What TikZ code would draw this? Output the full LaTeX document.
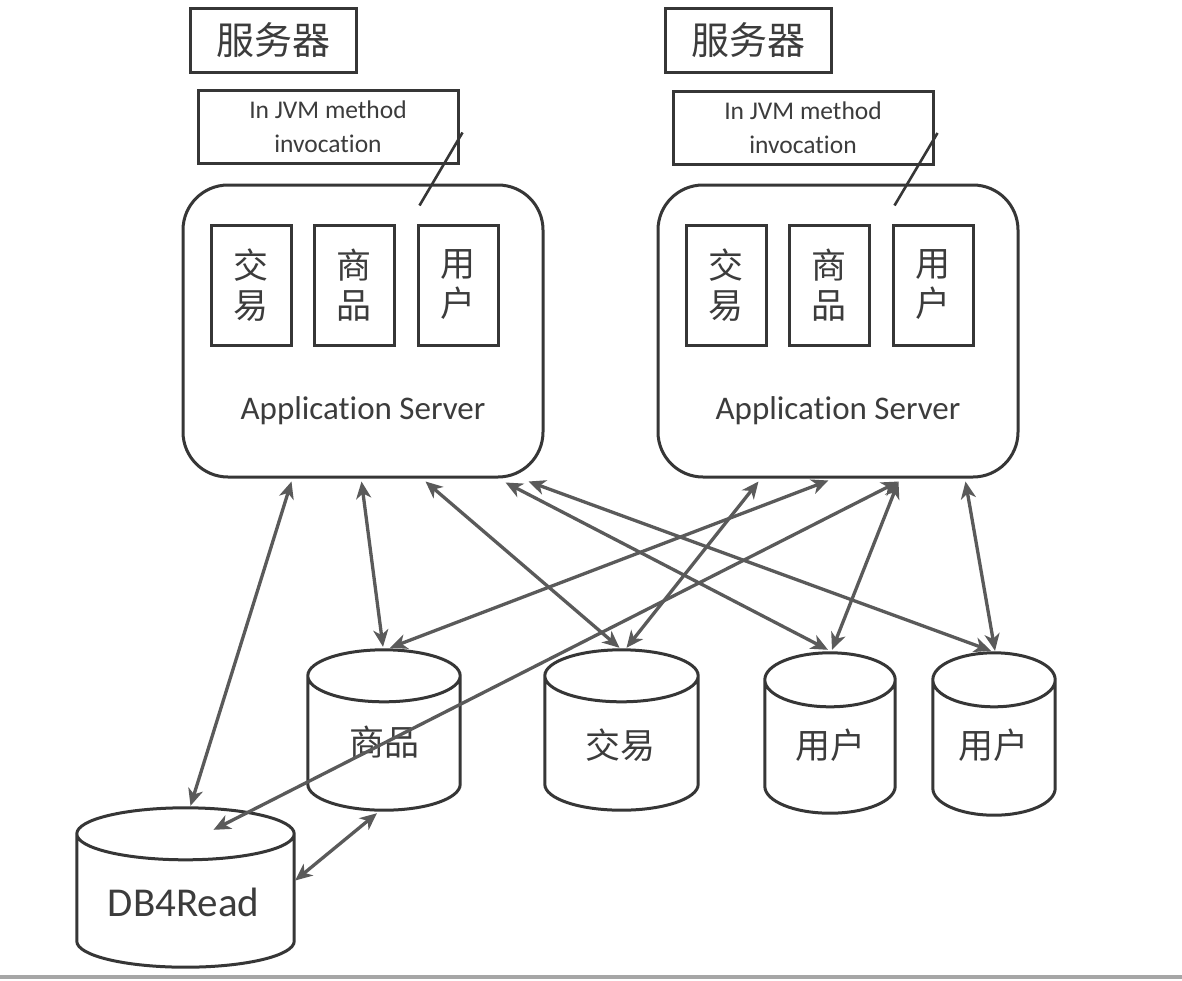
\documentclass[tikz,border=0pt]{standalone}
\usepackage{fontspec}
\setmainfont{Carlito}[Ligatures=NoCommon]
\newfontfamily\cjk{Noto Sans CJK SC}
\usetikzlibrary{arrows.meta,calc}
\definecolor{boxc}{HTML}{363636}
\definecolor{arrc}{HTML}{5A5A5A}
\definecolor{txtc}{HTML}{3C3C3C}
\newcommand\drawcyl[2]{%
  \draw[cylline] let \p1=(#1.north west), \p2=(#1.south east) in
    ({(\x1+\x2)/2},{\y1-#2pt}) ellipse [x radius={(\x2-\x1)/2}, y radius=#2pt]
    (\x1,{\y1-#2pt}) -- (\x1,{\y2+#2pt})
    arc[start angle=180,end angle=360,x radius={(\x2-\x1)/2},y radius=#2pt]
    -- (\x2,{\y1-#2pt});}
\begin{document}
\begin{tikzpicture}[x=1pt,y=-1pt,
  box/.style={draw=boxc, line width=3pt, inner sep=0pt, text=txtc},
  titlebox/.style={box, minimum width=166pt, minimum height=64pt, font=\cjk\fontsize{38}{38}\selectfont},
  jvmbox/.style={box, minimum width=260pt, minimum height=73pt, align=center, font=\fontsize{25.5}{34}\selectfont},
  appbox/.style={box, rounded corners=45pt, minimum width=360pt, minimum height=292pt},
  modbox/.style={box, minimum width=80pt, minimum height=120pt, align=center, font=\cjk\fontsize{35}{40}\selectfont},
  apptext/.style={text=txtc, inner sep=0pt, font=\fontsize{33}{33}\selectfont},
  cylbox/.style={inner sep=0pt},
  cylline/.style={draw=boxc, line width=3pt},
  cyltext/.style={text=txtc, inner sep=0pt, font=\cjk\fontsize{35}{35}\selectfont},
  dbtext/.style={text=txtc, inner sep=0pt, font=\fontsize{41}{41}\selectfont},
  conn/.style={draw=arrc, line width=3.3pt, {Stealth[length=17pt,width=15pt,inset=5pt]}-{Stealth[length=17pt,width=15pt,inset=5pt]}},
  tick/.style={draw=boxc, line width=2.6pt}]
\useasboundingbox (0,0) rectangle (1182,980);
\fill[white] (0,0) rectangle (1182,980);

% titles
\node[titlebox] (srvL) at (273,40) {服务器};
\node[titlebox] (srvR) at (748,40) {服务器};
\node[jvmbox] (jvmL) at (328,126.5) {In JVM method\\invocation};
\node[jvmbox] (jvmR) at (803,128) {In JVM method\\invocation};

% application servers
\node[appbox] (appL) at (363,331) {};
\node[appbox] (appR) at (838,331) {};
\node[apptext] (appLt) at (363,411) {Application Server};
\node[apptext] (appRt) at (838,411) {Application Server};

\node[modbox] (mLjy) at (251,285) {交\\易};
\node[modbox] (mLsp) at (354,285) {商\\品};
\node[modbox] (mLyh) at (458,285) {用\\户};
\node[modbox] (mRjy) at (726,285) {交\\易};
\node[modbox] (mRsp) at (829,285) {商\\品};
\node[modbox] (mRyh) at (933,285) {用\\户};

\draw[tick] ($(jvmL.east)+(3,6)$) -- ($(appL.north east)+(-125,22)$);
\draw[tick] ($(jvmR.east)+(3,5)$) -- ($(appR.north east)+(-125,22)$);

% databases
\node[cylbox, minimum width=152pt, minimum height=160pt] (sp) at (384,730) {};
\node[cylbox, minimum width=153pt, minimum height=160pt] (jy) at (621.5,730) {};
\node[cylbox, minimum width=130pt, minimum height=160pt] (u1) at (830,733) {};
\node[cylbox, minimum width=122pt, minimum height=162pt] (u2) at (994,734) {};
\node[cylbox, minimum width=217pt, minimum height=159pt] (db) at (185.5,887.5) {};
\drawcyl{sp}{26}
\drawcyl{jy}{26}
\drawcyl{u1}{27}
\drawcyl{u2}{27}
\drawcyl{db}{26}
\node[cyltext] (spt) at ($(sp.center)+(0,12)$) {商品};
\node[cyltext] (jyt) at ($(jy.center)+(-1,15)$) {交易};
\node[cyltext] (u1t) at ($(u1.center)+(0,12)$) {用户};
\node[cyltext] (u2t) at ($(u2.center)+(-1,11)$) {用户};
\node[dbtext] (dbt) at ($(db.center)+(-2,15)$) {DB4Read};

% connectors
\draw[conn] ($(appL.south west)+(110,3)$) -- ($(db.north)+(5,-2)$);
\draw[conn] ($(appL.south west)+(180,3)$) -- ($(sp.north)+(-1,-3)$);
\draw[conn] ($(appL.south west)+(244,3)$) -- ($(jy.north)+(-2,-2)$);
\draw[conn] ($(appL.south west)+(324,4)$) -- ($(u1.north)+(-2,-3)$);
\draw[conn] ($(appL.south west)+(347,3)$) -- ($(u2.north)+(-3,-2)$);
\draw[conn] ($(appR.south west)+(102,3)$) -- ($(jy.north)+(5,-2)$);
\draw[conn] ($(appR.south west)+(172,2)$) -- ($(sp.north)+(6,-2)$);
\draw[conn] ($(appR.south west)+(242,3)$) -- ($(u1.north)+(2,-3)$);
\draw[conn] ($(appR.south west)+(242,3)$) -- ($(db.north)+(28,22)$);
\draw[conn] ($(appR.south west)+(309,3)$) -- ($(u2.north)+(1,-2)$);
\draw[conn] ($(sp.south)+(-7,3)$) -- ($(db.east)+(1,-7)$);

% page edge
\fill[gray!70] (0,975) rectangle (1182,979);
\end{tikzpicture}
\end{document}
